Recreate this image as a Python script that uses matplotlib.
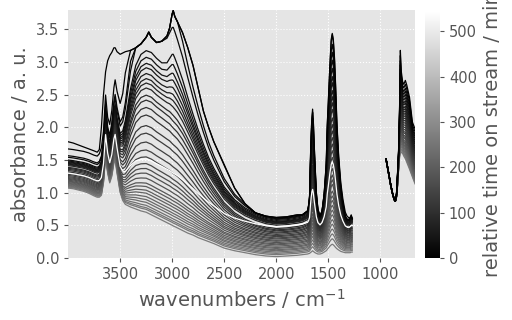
import numpy as np
import matplotlib
matplotlib.use("Agg")
import matplotlib.pyplot as plt
from matplotlib import colors, cm

# wavenumber grid, high-frequency window (cm-1)
wn1 = [4000, 3950, 3900, 3850, 3800, 3750, 3720, 3700, 3680, 3660,
       3640, 3620, 3600, 3580, 3560, 3548, 3530, 3500, 3475, 3450,
       3400, 3350, 3300, 3250, 3225, 3200, 3150, 3100, 3050, 3025,
       3000, 2990, 2975, 2950, 2900, 2850, 2800, 2750, 2700, 2650,
       2600, 2500, 2400, 2300, 2200, 2100, 2000, 1900, 1800, 1750,
       1700, 1690, 1680, 1673, 1665, 1658, 1651, 1644, 1636, 1628,
       1615, 1600, 1580, 1560, 1540, 1520, 1510, 1500, 1485, 1472,
       1462, 1452, 1440, 1430, 1417, 1400, 1380, 1360, 1337, 1320,
       1300, 1290, 1280, 1270]

# first spectrum (t = 0)
top = [1.78, 1.76, 1.73, 1.70, 1.67, 1.64, 1.62, 1.66, 2.00, 2.50,
       2.85, 3.02, 3.10, 3.15, 3.22, 3.22, 3.16, 3.12, 3.14, 3.16,
       3.18, 3.22, 3.28, 3.38, 3.46, 3.38, 3.30, 3.32, 3.40, 3.52,
       3.74, 3.79, 3.70, 3.62, 3.45, 3.22, 2.95, 2.60, 2.25, 2.00,
       1.78, 1.43, 1.07, 0.83, 0.69, 0.64, 0.62, 0.63, 0.66, 0.66,
       0.72, 0.80, 0.95, 1.45, 1.90, 2.15, 2.28, 2.10, 1.75, 1.45,
       1.00, 0.75, 0.64, 0.72, 0.98, 1.45, 2.05, 2.40, 2.95, 3.35,
       3.44, 3.35, 3.05, 2.65, 2.05, 1.55, 1.15, 0.90, 0.70, 0.64,
       0.61, 0.62, 0.66, 0.60]

# last spectrum before the break (lowest grey line)
base = [1.07, 1.06, 1.04, 1.02, 0.99, 0.95, 0.93, 0.93, 0.96, 1.15,
        1.55, 1.30, 1.15, 1.25, 1.45, 1.50, 1.30, 1.00, 0.88, 0.82,
        0.78, 0.75, 0.72, 0.70, 0.68, 0.66, 0.62, 0.58, 0.54, 0.52,
        0.50, 0.49, 0.48, 0.46, 0.42, 0.38, 0.35, 0.31, 0.28, 0.25,
        0.22, 0.15, 0.11, 0.08, 0.05, 0.03, 0.02, 0.03, 0.04, 0.05,
        0.06, 0.065, 0.07, 0.08, 0.09, 0.10, 0.11, 0.10, 0.09, 0.08,
        0.07, 0.06, 0.06, 0.07, 0.09, 0.11, 0.13, 0.15, 0.18, 0.20,
        0.21, 0.20, 0.18, 0.16, 0.14, 0.12, 0.10, 0.09, 0.08, 0.08,
        0.08, 0.08, 0.09, 0.09]

# band shapes seen in the differences between spectra
flat = [0.40, 0.40, 0.41, 0.42, 0.43, 0.44, 0.45, 0.45, 0.46, 0.47,
        0.48, 0.49, 0.50, 0.52, 0.54, 0.55, 0.57, 0.60, 0.63, 0.66,
        0.70, 0.74, 0.77, 0.80, 0.81, 0.82, 0.84, 0.86, 0.87, 0.88,
        0.88, 0.89, 0.89, 0.90, 0.91, 0.92, 0.93, 0.94, 0.95, 0.95,
        0.96, 0.97, 0.98, 0.99, 1.00, 1.00, 1.00, 1.00, 1.00, 1.00,
        1.00, 1.00, 1.00, 1.00, 1.00, 1.00, 1.00, 1.00, 1.00, 1.00,
        0.99, 0.98, 0.97, 0.96, 0.95, 0.94, 0.94, 0.93, 0.93, 0.92,
        0.92, 0.91, 0.91, 0.90, 0.90, 0.89, 0.88, 0.87, 0.86, 0.86,
        0.85, 0.85, 0.85, 0.85]
water = [0.10, 0.10, 0.10, 0.10, 0.10, 0.10, 0.10, 0.11, 0.12, 0.12,
         0.13, 0.14, 0.16, 0.18, 0.20, 0.21, 0.24, 0.28, 0.35, 0.45,
         0.70, 0.88, 0.97, 1.00, 1.00, 1.00, 0.97, 0.95, 0.93, 0.92,
         0.90, 0.89, 0.88, 0.86, 0.80, 0.72, 0.63, 0.54, 0.45, 0.37,
         0.30, 0.19, 0.11, 0.06, 0.03, 0.01, 0.0, 0.0, 0.0, 0.0,
         0.0, 0.0, 0.0, 0.0, 0.0, 0.0, 0.0, 0.0, 0.0, 0.0,
         0.0, 0.0, 0.0, 0.0, 0.0, 0.0, 0.0, 0.0, 0.0, 0.0,
         0.0, 0.0, 0.0, 0.0, 0.0, 0.0, 0.0, 0.0, 0.0, 0.0,
         0.0, 0.0, 0.0, 0.0]
ch = [0.0, 0.0, 0.0, 0.0, 0.0, 0.0, 0.0, 0.0, 0.0, 0.0,
      0.0, 0.0, 0.0, 0.0, 0.0, 0.0, 0.0, 0.0, 0.0, 0.0,
      0.0, 0.0, 0.0, 0.0, 0.0, 0.0, 0.0, 0.0, 0.15, 0.35,
      0.60, 0.65, 0.60, 0.50, 0.35, 0.20, 0.10, 0.05, 0.02, 0.0,
      0.0, 0.0, 0.0, 0.0, 0.0, 0.0, 0.0, 0.0, 0.0, 0.0,
      0.0, 0.0, 0.0, 0.0, 0.0, 0.0, 0.0, 0.0, 0.0, 0.0,
      0.0, 0.0, 0.0, 0.0, 0.0, 0.0, 0.0, 0.0, 0.0, 0.0,
      0.0, 0.0, 0.0, 0.0, 0.0, 0.0, 0.0, 0.0, 0.0, 0.0,
      0.0, 0.0, 0.0, 0.0]
bands = [0.0, 0.0, 0.0, 0.0, 0.0, 0.0, 0.0, 0.0, 0.02, 0.08,
         0.20, 0.06, 0.02, 0.05, 0.12, 0.15, 0.05, 0.0, 0.0, 0.0,
         0.0, 0.0, 0.0, 0.0, 0.0, 0.0, 0.0, 0.0, 0.0, 0.0,
         0.0, 0.0, 0.0, 0.0, 0.0, 0.0, 0.0, 0.0, 0.0, 0.0,
         0.0, 0.0, 0.0, 0.0, 0.0, 0.0, 0.0, 0.0, 0.02, 0.03,
         0.08, 0.15, 0.30, 0.80, 1.25, 1.50, 1.60, 1.45, 1.10, 0.80,
         0.35, 0.10, 0.0, 0.10, 0.35, 0.80, 1.40, 1.75, 2.30, 2.70,
         2.80, 2.70, 2.40, 2.00, 1.40, 0.90, 0.50, 0.25, 0.05, 0.0,
         0.0, 0.03, 0.05, 0.04]

# low-frequency window
wn2 = [945, 920, 900, 880, 865, 856, 845, 835, 825, 815,
       808, 800, 786, 775, 760, 745, 720, 692, 673, 665]
base2 = [1.50, 1.28, 1.10, 0.96, 0.89, 0.87, 0.93, 1.10, 1.35, 1.55,
         1.60, 1.62, 1.60, 1.56, 1.52, 1.46, 1.36, 1.24, 1.16, 1.13]
bands2 = [0.02, 0.02, 0.02, 0.01, 0.0, 0.0, 0.05, 0.20, 0.30, 0.80,
          1.58, 1.25, 1.10, 1.10, 1.20, 1.18, 1.10, 0.84, 0.84, 0.85]

# one entry per spectrum
times = [0, 7, 15, 22, 30, 37, 45, 52, 60, 67,
         75, 82, 90, 97, 105, 112, 120, 127, 135, 142,
         150, 157, 165, 172, 180, 187, 195, 202, 210, 217,
         225, 232, 240, 247, 255, 262, 545]
offset = [0.62, 0.60, 0.59, 0.58, 0.57, 0.555, 0.54, 0.53, 0.52, 0.51,
          0.50, 0.48, 0.43, 0.41, 0.395, 0.375, 0.36, 0.34, 0.32, 0.305,
          0.285, 0.27, 0.25, 0.235, 0.215, 0.195, 0.18, 0.16, 0.14, 0.125,
          0.105, 0.09, 0.07, 0.05, 0.03, 0.0, 0.46]
water_amp = [4.2, 3.6, 2.6, 2.4, 2.02, 1.93, 1.85, 1.79, 1.71, 1.64,
             1.58, 1.52, 1.45, 1.39, 1.29, 1.19, 1.04, 0.94, 0.82, 0.71,
             0.62, 0.53, 0.47, 0.41, 0.35, 0.29, 0.25, 0.21, 0.18, 0.14,
             0.11, 0.08, 0.05, 0.03, 0.02, 0.0, 0.45]
ch_amp = [1.2, 1.0, 0.8, 0.6, 0.5, 0.4, 0.32, 0.25, 0.2, 0.15,
          0.1, 0.06, 0.03, 0, 0, 0, 0, 0, 0, 0,
          0, 0, 0, 0, 0, 0, 0, 0, 0, 0,
          0, 0, 0, 0, 0, 0, 0]
band_amp = [1.0, 0.95, 0.9, 0.86, 0.82, 0.78, 0.74, 0.71, 0.67, 0.64,
            0.61, 0.58, 0.55, 0.52, 0.49, 0.46, 0.43, 0.40, 0.37, 0.34,
            0.32, 0.29, 0.27, 0.25, 0.22, 0.20, 0.18, 0.16, 0.14, 0.12,
            0.10, 0.08, 0.06, 0.04, 0.02, 0.0, 0.3]

grey = "#555555"
plt.rcParams["font.family"] = "DejaVu Sans"

fig = plt.figure(figsize=(5.12, 3.2), dpi=100)
ax = fig.add_axes([0.133, 0.194, 0.678, 0.775])
cax = fig.add_axes([0.830, 0.194, 0.029, 0.772])
ax.set_facecolor("#E5E5E5")

top_a = np.array(top)
base_a = np.array(base)
norm = colors.Normalize(vmin=0, vmax=max(times))
cmap = plt.get_cmap("gray")
n = len(times)

for i, t in enumerate(times):
    if i == 0:
        a1 = top_a
    else:
        raw = (base_a + offset[i] * np.array(flat) + water_amp[i] * np.array(water)
               + ch_amp[i] * np.array(ch) + band_amp[i] * np.array(bands))
        a1 = np.minimum(raw, top_a)
    a2 = np.array(base2) + band_amp[i] * np.array(bands2)
    c = cmap(norm(t))
    # early (dark) spectra on top, except the final one in the main window
    z1 = 2 + n if i == n - 1 else 2 + n - i
    ax.plot(wn1, a1, color=c, lw=0.9, zorder=z1)
    ax.plot(wn2, a2, color=c, lw=0.9, zorder=2 + n - i)

ax.set_xlim(4000, 665)
ax.set_ylim(0, 3.8)
ax.set_xticks([3500, 3000, 2500, 2000, 1500, 1000])
ax.set_yticks(np.arange(0, 3.6, 0.5))
ax.grid(True, color="white", linestyle=":", linewidth=0.8)
ax.set_axisbelow(True)
for s in ax.spines.values():
    s.set_visible(False)
ax.tick_params(labelsize=10.5, colors=grey, length=3, direction="out")
ax.set_xlabel("wavenumbers / cm$^{-1}$", fontsize=14, color=grey)
ax.set_ylabel("absorbance / a. u.", fontsize=14, color=grey)

sm = cm.ScalarMappable(norm=norm, cmap=cmap)
cb = fig.colorbar(sm, cax=cax)
cb.outline.set_visible(False)
cb.set_ticks([0, 100, 200, 300, 400, 500])
cb.ax.tick_params(labelsize=10.5, colors=grey, length=3)
cb.set_label("relative time on stream / min", fontsize=14, color=grey)

fig.savefig("out.png", dpi=100)
